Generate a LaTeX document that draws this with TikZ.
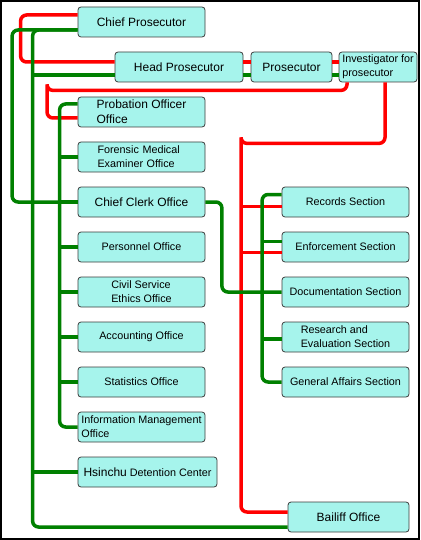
\documentclass[tikz,border=0pt]{standalone}
\usepackage{fontspec}
\setmainfont{Liberation Sans}
\usepackage{tikz}

\definecolor{boxfill}{RGB}{166,244,236}
\definecolor{boxline}{RGB}{60,60,60}
\definecolor{redline}{RGB}{255,0,0}
\definecolor{greenline}{RGB}{0,128,0}

\begin{document}
\begin{tikzpicture}
            [x=1pt,y=-1pt,every node/.style={draw=boxline, line width=0.8pt, fill=boxfill, rounded corners=3pt, minimum height=30pt, inner xsep=0pt, inner ysep=0pt, align=center, font=\fontsize{10.8}{14}\selectfont},
             big/.style={font=\fontsize{12}{14.7}\selectfont},
             red link/.style={draw=redline, line width=3.5pt, rounded corners=6pt},
             green link/.style={draw=greenline, line width=3.5pt, rounded corners=6pt}]

            \useasboundingbox (0,0) rectangle (420,540);
            \draw[line width=2pt] (1,1) rectangle (419,539);

            \node[big, minimum width=127pt] (cp) at (141.5,22) {Chief Prosecutor};
            \node[big, minimum width=128pt] (hp) at (179,67) {Head Prosecutor};
            \node[big, minimum width=81pt] (pr) at (291.5,67) {Prosecutor};
            \node[minimum width=78pt, align=left] (inv) at (378,67) {Investigator for\\prosecutor};

            \node[big, minimum width=127pt, align=left] (po) at (141.5,112) {Probation Officer\\Office};
            \node[text width=88pt, inner xsep=19.5pt, align=left] (fm) at (141.5,157) {Forensic Medical\\Examiner Office};
            \node[big, minimum width=127pt] (cc) at (141.5,202) {Chief Clerk Office};
            \node[minimum width=127pt] (pe) at (141.5,247) {Personnel Office};
            \node[minimum width=127pt, align=left] (cs) at (141.5,292) {Civil Service\\Ethics Office};
            \node[minimum width=127pt] (ac) at (141.5,337) {Accounting Office};
            \node[minimum width=127pt] (st) at (141.5,382) {Statistics Office};
            \node[minimum width=127pt, align=left] (im) at (141.5,427) {Information Management\\Office};
            \node[minimum width=139pt] (hd) at (147.5,472) {{\fontsize{12}{14}\selectfont Hsinchu} Detention Center};

            \node[minimum width=127pt] (rs) at (345.5,202) {Records Section};
            \node[minimum width=127pt] (es) at (345.5,247) {Enforcement Section};
            \node[minimum width=127pt] (ds) at (345.5,292) {Documentation Section};
            \node[minimum width=127pt, align=left] (re) at (345.5,337) {Research and\\Evaluation Section};
            \node[minimum width=127pt] (ga) at (345.5,382) {General Affairs Section};
            \node[big, minimum width=121pt] (bo) at (348.5,517) {Bailiff Office};

            % red lines
            \draw[red link] ([yshift=7pt]cp.west) -- ++(-57,0) |- ([yshift=5pt]hp.west);
            \draw[red link] ([yshift=5pt]hp.east) -- ([yshift=5pt]pr.west);
            \draw[red link] ([yshift=5pt]pr.east) -- ([yshift=5pt]inv.west);
            \draw[red link] ([xshift=-31pt]inv.south) -- ++(0,8) -| ++(-300,0) |- ([yshift=-6pt]po.west);
            \draw[red link] ([xshift=7pt]inv.south) -- ++(0,61) -| ++(-144,0) |- ([yshift=5pt]bo.west);
            \draw[red link] ([yshift=-4.5pt]rs.west) -- ++(-41,0);
            \draw[red link] ([yshift=-5.5pt]es.west) -- ++(-41,0);

            % green lines
            \draw[green link] ([yshift=-8pt]cp.west) -- ++(-65.5,0) |- (cc.west);
            \draw[green link] ([yshift=-8pt]cp.west) -- ++(-45,0) |- ([yshift=-10pt]bo.west);
            \draw[green link] ([yshift=-8pt]hp.west) -- ++(-82,0);
            \draw[green link] (hd.west) -- ++(-45,0);
            \draw[green link] ([yshift=-8pt]hp.east) -- ([yshift=-8pt]pr.west);
            \draw[green link] ([yshift=-8pt]pr.east) -- ([yshift=-8pt]inv.west);
            \draw[green link] ([yshift=8pt]po.west) -- ++(-18,0) |- (im.west);
            \foreach \n in {fm,cc,pe,cs,ac,st}
              \draw[green link] (\n.west) -- ++(-18,0);
            \draw[green link] (cc.east) -- ++(16.5,0) |- (ds.west);
            \draw[green link] ([yshift=7.5pt]rs.west) -- ++(-19.5,0) |- (ga.west);
            \draw[green link] ([yshift=5.5pt]es.west) -- ++(-19.5,0);
            \draw[green link] ([yshift=-2pt]re.west) -- ++(-19.5,0);
        \end{tikzpicture}
\end{document}
